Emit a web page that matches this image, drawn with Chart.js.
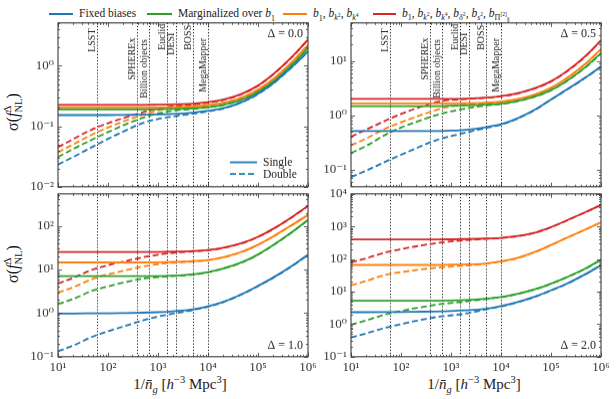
<!DOCTYPE html>
<html><head><meta charset="utf-8">
<script src="https://cdn.jsdelivr.net/npm/chart.js@4.4.0/dist/chart.umd.min.js"></script>
<style>
html,body{margin:0;padding:0;background:#fff;}
body{position:relative;width:616px;height:399px;overflow:hidden;font-family:'Liberation Serif','DejaVu Serif',serif;color:#222;}
canvas{position:absolute;}
.lg{position:absolute;font-size:11.5px;line-height:1;white-space:nowrap;transform:translateY(-50%);}
.lgline{position:absolute;height:0;border-top:2px solid;}
sub,sup{font-size:70%;line-height:0;}
.ylab{position:absolute;font-size:16px;white-space:nowrap;transform:translate(-50%,-50%) rotate(-90deg);}
.xlab{position:absolute;font-size:15px;white-space:nowrap;transform:translate(-50%,-50%);}
.ss{display:inline-flex;flex-direction:column;font-size:66%;line-height:1.0;vertical-align:middle;}
</style></head><body>
<div class="lgline" style="left:49px;top:13px;width:24px;border-color:#1f77b4"></div>
<div class="lg" style="left:79px;top:14px">Fixed biases</div>
<div class="lgline" style="left:147px;top:13px;width:25px;border-color:#2ca02c"></div>
<div class="lg" style="left:178px;top:14px">Marginalized over <i>b</i><sub>1</sub></div>
<div class="lgline" style="left:283px;top:13px;width:24px;border-color:#ff7f0e"></div>
<div class="lg" style="left:313px;top:14px"><i>b</i><sub>1</sub>, <i>b</i><sub><i>k</i><sup>2</sup></sub>, <i>b</i><sub><i>k</i><sup>4</sup></sub></div>
<div class="lgline" style="left:373px;top:13px;width:23px;border-color:#d62728"></div>
<div class="lg" style="left:402px;top:14px"><i>b</i><sub>1</sub>, <i>b</i><sub><i>k</i><sup>2</sup></sub>, <i>b</i><sub><i>k</i><sup>4</sup></sub>, <i>b</i><sub><i>δ</i><sup>2</sup></sub>, <i>b</i><sub><i>s</i><sup>2</sup></sub>, <i>b</i><sub>Π<sup>[2]</sup><sub>∥</sub></sub></div>

<div class="ylab" style="left:14px;top:112px">σ(<i>f</i><span class="ss"><span>Δ</span><span>NL</span></span>)</div>
<div class="ylab" style="left:14px;top:264px">σ(<i>f</i><span class="ss"><span>Δ</span><span>NL</span></span>)</div>
<div class="xlab" style="left:180px;top:384px">1/<i>n̄</i><sub><i>g</i></sub> [<i>h</i><sup>−3</sup> Mpc<sup>3</sup>]</div>
<div class="xlab" style="left:474px;top:384px">1/<i>n̄</i><sub><i>g</i></sub> [<i>h</i><sup>−3</sup> Mpc<sup>3</sup>]</div>

<canvas id="c0" width="300" height="200"></canvas>
<canvas id="c1" width="300" height="200"></canvas>
<canvas id="c2" width="300" height="200"></canvas>
<canvas id="c3" width="300" height="200"></canvas>
<script>
// ---------------- data ----------------
const invNbar = [10, 20, 50, 100, 200, 500, 1e3, 2e3, 5e3, 1e4, 2e4, 5e4, 1e5, 2e5, 5e5, 1e6];

const surveyNames = ['LSST', 'SPHEREx', 'Billion objects', 'Euclid', 'DESI', 'BOSS', 'MegaMapper'];
const surveyInvNbar = [60, 375, 650, 1500, 2300, 4900, 10000];

const deltaLabels = ['0.0', '0.5', '1.0', '2.0'];

// Delta = 0.0
const fixedSingle_D00 = [0.153,0.153,0.153,0.153,0.154,0.155,0.157,0.160,0.168,0.180,0.198,0.255,0.345,0.51,0.99,1.72];
const margSingle_D00  = [0.19,0.19,0.19,0.19,0.19,0.19,0.191,0.193,0.198,0.207,0.226,0.28,0.37,0.545,1.08,1.96];
const kSingle_D00     = [0.204,0.204,0.204,0.204,0.204,0.204,0.205,0.207,0.213,0.224,0.244,0.304,0.405,0.6,1.2,2.2];
const allSingle_D00   = [0.225,0.225,0.225,0.225,0.225,0.225,0.227,0.23,0.237,0.25,0.275,0.35,0.47,0.72,1.45,2.7];
const fixedDouble_D00 = [0.0232,0.031,0.046,0.062,0.081,0.113,0.132,0.145,0.161,0.176,0.196,0.252,0.34,0.505,0.98,1.70];
const margDouble_D00  = [0.031,0.042,0.061,0.08,0.103,0.138,0.162,0.18,0.193,0.205,0.224,0.277,0.365,0.54,1.07,1.94];
const kDouble_D00     = [0.037,0.05,0.074,0.095,0.119,0.155,0.182,0.2,0.21,0.222,0.242,0.3,0.4,0.595,1.19,2.18];
const allDouble_D00   = [0.045,0.061,0.09,0.112,0.136,0.17,0.198,0.214,0.228,0.245,0.27,0.345,0.465,0.715,1.44,2.68];

// Delta = 0.5
const fixedSingle_D05 = [0.51,0.51,0.51,0.51,0.51,0.51,0.52,0.54,0.6,0.68,0.85,1.3,1.95,2.9,5.0,7.85];
const margSingle_D05  = [1.47,1.47,1.47,1.47,1.47,1.47,1.49,1.51,1.56,1.63,1.8,2.25,2.9,4.2,7.8,13.9];
const kSingle_D05     = [1.65,1.65,1.65,1.65,1.65,1.65,1.65,1.66,1.7,1.78,1.95,2.45,3.2,4.7,9.0,16.5];
const allSingle_D05   = [2.0,2.0,2.0,2.0,2.0,2.0,2.0,2.02,2.1,2.25,2.5,3.2,4.2,6.3,12.5,23.8];
const fixedDouble_D05 = [0.072,0.095,0.14,0.186,0.245,0.345,0.41,0.48,0.58,0.67,0.84,1.28,1.93,2.87,4.95,7.8];
const margDouble_D05  = [0.20,0.27,0.44,0.59,0.75,1.0,1.17,1.33,1.5,1.6,1.78,2.22,2.87,4.15,7.7,13.7];
const kDouble_D05     = [0.278,0.37,0.57,0.74,0.93,1.24,1.45,1.57,1.65,1.75,1.93,2.42,3.15,4.65,8.9,16.3];
const allDouble_D05   = [0.40,0.54,0.8,1.05,1.33,1.74,1.9,1.98,2.08,2.22,2.47,3.15,4.15,6.2,12.3,23.5];

// Delta = 1.0
const fixedSingle_D10 = [0.98,0.98,0.985,0.99,1.0,1.02,1.05,1.1,1.22,1.43,1.8,2.8,4.2,6.5,12.5,22];
const margSingle_D10  = [7.0,7.0,7.0,7.0,7.0,7.0,7.05,7.2,7.7,8.7,10.5,15,22,36,75,137];
const kSingle_D10     = [14.5,14.5,14.5,14.5,14.5,14.5,14.6,14.9,15.5,16.5,19,26,37,57,108,178];
const allSingle_D10   = [25,25,25,25,25,25,25.2,25.6,26.5,28,31.5,41,56,85,165,287];
const fixedDouble_D10 = [0.133,0.18,0.29,0.384,0.49,0.68,0.83,0.97,1.17,1.4,1.78,2.77,4.15,6.4,12.3,21.7];
const margDouble_D10  = [1.61,2.1,3.3,4.1,5.0,6.15,6.65,7.05,7.6,8.6,10.4,14.8,21.8,35.7,74,135];
const kDouble_D10     = [2.95,3.9,6.1,7.7,9.3,11.7,13.2,14.3,15.2,16.3,18.8,25.7,36.6,56.5,107,176];
const allDouble_D10   = [4.75,6.4,10.0,12.5,15.1,19.0,21.8,24.0,25.8,27.5,31,40.5,55.5,84,163,284];

// Delta = 2.0
const fixedSingle_D20 = [2.33,2.33,2.34,2.36,2.4,2.45,2.52,2.65,2.95,3.57,4.6,7.2,10.9,17,35,65];
const margSingle_D20  = [5.24,5.24,5.24,5.24,5.24,5.24,5.35,5.55,6.0,6.8,8.3,12,17.5,27,52,96];
const kSingle_D20     = [65.8,65.8,65.8,65.8,65.8,65.8,67,68.5,73,85,105,170,270,440,820,1340];
const allSingle_D20   = [399,399,399,399,399,399,403,410,425,446,500,660,950,1500,2800,4570];
const fixedDouble_D20 = [0.39,0.52,0.78,1.0,1.26,1.64,1.85,2.1,2.85,3.5,4.55,7.1,10.8,16.9,34.7,64.5];
const margDouble_D20  = [0.96,1.3,2.0,2.53,3.11,3.95,4.45,5.0,5.9,6.75,8.25,11.9,17.4,26.8,51.5,95];
const kDouble_D20     = [15.8,21,33,39.6,45.7,54,58.5,63,71,84,104,168,268,437,815,1330];
const allDouble_D20   = [79,105,160,201,245,308,345,380,415,440,495,655,945,1490,2780,4540];

// ---------------- styling / layout ----------------
const FONT = "'Liberation Serif','DejaVu Serif',serif";
const seriesColors = ['#1f77b4', '#2ca02c', '#ff7f0e', '#d62728'];
const surveyLabelStart = [29, 57, 75, 27, 32, 27, 69]; // px below axes top where the rotated label begins
const SUP = {'-':'⁻','0':'⁰','1':'¹','2':'²','3':'³','4':'⁴','5':'⁵','6':'⁶','7':'⁷','8':'⁸','9':'⁹'};
function powLabel(v){ const e = Math.round(Math.log10(v)); return '10' + String(e).split('').map(c=>SUP[c]).join(''); }

function logMarks(min, max){
  const out = [];
  for (let k = Math.floor(Math.log10(min)) - 1; k <= Math.ceil(Math.log10(max)); k++){
    for (let m = 1; m <= 9; m++){
      const v = m * Math.pow(10, k);
      if (v >= min * 0.9999 && v <= max * 1.0001) out.push({v, major: m === 1});
    }
  }
  return out;
}

const decor = {
  id: 'decor',
  beforeDatasetsDraw(chart, args, o){
    const {ctx, chartArea: ca, scales: {x}} = chart;
    ctx.save();
    ctx.beginPath(); ctx.rect(ca.left, ca.top, ca.right - ca.left, ca.bottom - ca.top); ctx.clip();
    ctx.strokeStyle = '#111'; ctx.lineWidth = 1; ctx.setLineDash([1.2, 1.9]);
    surveyInvNbar.forEach(v => {
      const px = Math.round(x.getPixelForValue(v)) + 0.5;
      ctx.beginPath(); ctx.moveTo(px, ca.top); ctx.lineTo(px, ca.bottom); ctx.stroke();
    });
    ctx.restore();
    if (o.surveyLabels){
      ctx.save();
      ctx.fillStyle = '#222'; ctx.font = '10px ' + FONT;
      ctx.textAlign = 'left'; ctx.textBaseline = 'alphabetic';
      surveyInvNbar.forEach((v, i) => {
        const px = x.getPixelForValue(v);
        ctx.save(); ctx.translate(px - 2, ca.top + surveyLabelStart[i]); ctx.rotate(-Math.PI / 2);
        ctx.fillText(surveyNames[i], 0, 0); ctx.restore();
      });
      ctx.restore();
    }
  },
  afterDatasetsDraw(chart, args, o){
    const {ctx, chartArea: ca, scales: {x, y}} = chart;
    ctx.save();
    ctx.strokeStyle = '#333'; ctx.lineWidth = 0.8;
    logMarks(x.min, x.max).forEach(t => {
      const px = Math.round(x.getPixelForValue(t.v)) + 0.5, L = t.major ? 4 : 2;
      ctx.beginPath();
      ctx.moveTo(px, ca.bottom); ctx.lineTo(px, ca.bottom - L);
      ctx.moveTo(px, ca.top); ctx.lineTo(px, ca.top + L);
      ctx.stroke();
    });
    logMarks(y.min, y.max).forEach(t => {
      const py = Math.round(y.getPixelForValue(t.v)) + 0.5, L = t.major ? 4 : 2;
      ctx.beginPath();
      ctx.moveTo(ca.left, py); ctx.lineTo(ca.left + L, py);
      ctx.moveTo(ca.right, py); ctx.lineTo(ca.right - L, py);
      ctx.stroke();
    });
    ctx.lineWidth = 1.1; ctx.strokeStyle = '#3a3a3a';
    ctx.strokeRect(ca.left, ca.top, ca.right - ca.left, ca.bottom - ca.top);
    // delta label
    ctx.fillStyle = '#222'; ctx.font = '12px ' + FONT; ctx.textAlign = 'right'; ctx.textBaseline = 'middle';
    ctx.fillText('Δ = ' + o.delta, ca.right - 5, o.deltaTop ? ca.top + 11 : ca.bottom - 11);
    if (o.lsLegend){
      ctx.strokeStyle = seriesColors[0]; ctx.lineWidth = 1.8;
      ctx.beginPath(); ctx.moveTo(ca.left + 172, ca.top + 138.7); ctx.lineTo(ca.left + 199, ca.top + 138.7); ctx.stroke();
      ctx.setLineDash([6, 3]);
      ctx.beginPath(); ctx.moveTo(ca.left + 172, ca.top + 150.3); ctx.lineTo(ca.left + 199, ca.top + 150.3); ctx.stroke();
      ctx.setLineDash([]);
      ctx.font = '11.5px ' + FONT; ctx.textAlign = 'left';
      ctx.fillText('Single', ca.left + 205, ca.top + 139);
      ctx.fillText('Double', ca.left + 205, ca.top + 151);
    }
    ctx.restore();
  }
};

const panels = [
  {id:'c0', box:{L:58, T:23, R:308, B:186}, yMin:0.01, yMax:5.1, delta:deltaLabels[0], deltaTop:true, surveyLabels:true, lsLegend:true, xLabels:false,
   single:[fixedSingle_D00, margSingle_D00, kSingle_D00, allSingle_D00], dbl:[fixedDouble_D00, margDouble_D00, kDouble_D00, allDouble_D00]},
  {id:'c1', box:{L:351, T:23, R:601, B:186}, yMin:0.048, yMax:50, delta:deltaLabels[1], deltaTop:true, surveyLabels:true, lsLegend:false, xLabels:false,
   single:[fixedSingle_D05, margSingle_D05, kSingle_D05, allSingle_D05], dbl:[fixedDouble_D05, margDouble_D05, kDouble_D05, allDouble_D05]},
  {id:'c2', box:{L:58, T:194, R:308, B:356}, yMin:0.1, yMax:540, delta:deltaLabels[2], deltaTop:false, surveyLabels:false, lsLegend:false, xLabels:true,
   single:[fixedSingle_D10, margSingle_D10, kSingle_D10, allSingle_D10], dbl:[fixedDouble_D10, margDouble_D10, kDouble_D10, allDouble_D10]},
  {id:'c3', box:{L:351, T:194, R:601, B:356}, yMin:0.1, yMax:1e4, delta:deltaLabels[3], deltaTop:false, surveyLabels:false, lsLegend:false, xLabels:true,
   single:[fixedSingle_D20, margSingle_D20, kSingle_D20, allSingle_D20], dbl:[fixedDouble_D20, margDouble_D20, kDouble_D20, allDouble_D20]},
];

function powerTicks(scale){
  const out = [];
  for (let e = Math.ceil(Math.log10(scale.min) - 1e-9); e <= Math.floor(Math.log10(scale.max) + 1e-9); e++) out.push({value: Math.pow(10, e)});
  scale.ticks = out;
}

function place(chart, box){
  const cv = chart.canvas;
  for (let i = 0; i < 3; i++){
    const ca = chart.chartArea;
    const dw = (box.R - box.L) - (ca.right - ca.left);
    const dh = (box.B - box.T) - (ca.bottom - ca.top);
    if (Math.abs(dw) < 0.01 && Math.abs(dh) < 0.01) break;
    chart.resize(chart.width + dw, chart.height + dh);
  }
  const ca = chart.chartArea;
  cv.style.left = (box.L - ca.left) + 'px';
  cv.style.top = (box.T - ca.top) + 'px';
}

panels.forEach(p => {
  const datasets = [];
  for (let s = 3; s >= 0; s--){
    datasets.push({data: invNbar.map((v, i) => ({x: v, y: p.dbl[s][i]})), borderColor: seriesColors[s], borderWidth: 1.8, borderDash: [6, 3], pointRadius: 0, cubicInterpolationMode: 'monotone', fill: false});
    datasets.push({data: invNbar.map((v, i) => ({x: v, y: p.single[s][i]})), borderColor: seriesColors[s], borderWidth: 1.8, pointRadius: 0, cubicInterpolationMode: 'monotone', fill: false});
  }
  datasets.reverse();
  const chart = new Chart(document.getElementById(p.id), {
    type: 'line',
    data: {datasets},
    options: {
      responsive: false, maintainAspectRatio: false, animation: false, devicePixelRatio: 1,
      layout: {padding: {left: 0, top: 6, right: 12, bottom: 0}},
      plugins: {legend: {display: false}, tooltip: {enabled: false}, decor: p},
      scales: {
        x: {type: 'logarithmic', min: 10, max: 1e6, bounds: 'data',
            grid: {display: false, drawTicks: false}, border: {display: false},
            afterBuildTicks: powerTicks,
            ticks: {display: p.xLabels, callback: v => powLabel(v), font: {family: FONT, size: 13}, color: '#333', padding: 3, maxRotation: 0, autoSkip: false}},
        y: {type: 'logarithmic', min: p.yMin, max: p.yMax, bounds: 'data',
            grid: {display: false, drawTicks: false}, border: {display: false},
            afterBuildTicks: powerTicks,
            afterFit: s => { s.width = 50; },
            ticks: {callback: v => powLabel(v), font: {family: FONT, size: 13}, color: '#333', padding: 4, autoSkip: false}}
      }
    },
    plugins: [decor]
  });
  place(chart, p.box);
});
</script>
</body></html>
